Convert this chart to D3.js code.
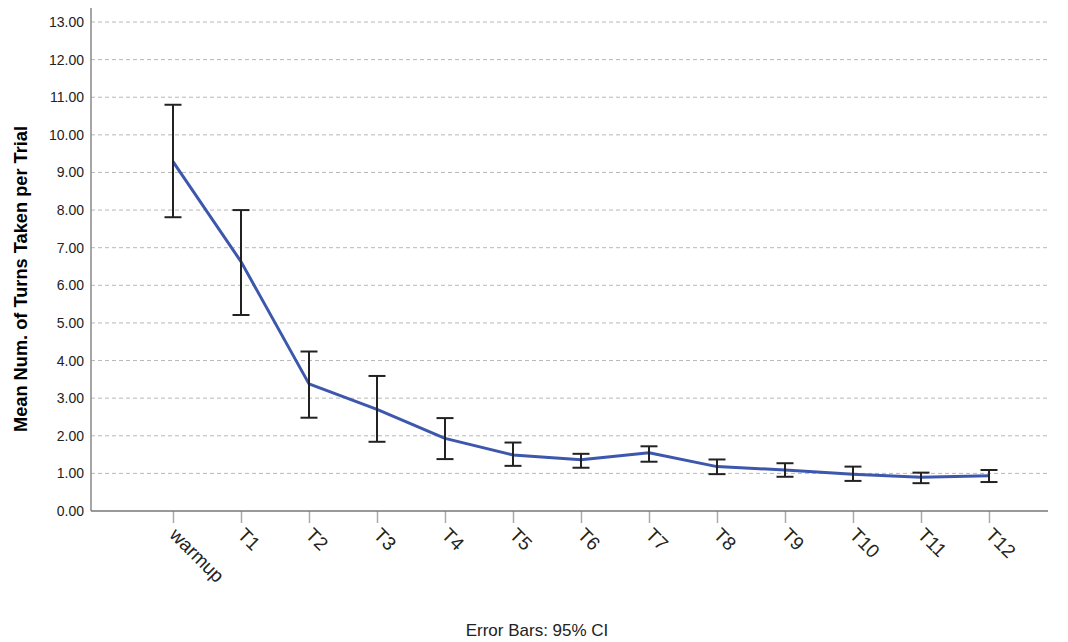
<!DOCTYPE html>
<html>
<head>
<meta charset="utf-8">
<script src="https://cdn.jsdelivr.net/npm/d3@7"></script>
<style>
  body { margin: 0; background: #fff; }
  svg { font-family: "Liberation Sans", Arial, sans-serif; }
</style>
</head>
<body>
<div id="chart"></div>
<script>
// data
var categories = ["warmup", "T1", "T2", "T3", "T4", "T5", "T6", "T7", "T8", "T9", "T10", "T11", "T12"];
var means = [9.29, 6.63, 3.38, 2.70, 1.93, 1.49, 1.36, 1.55, 1.18, 1.09, 0.98, 0.90, 0.94];
var upper = [10.80, 8.00, 4.24, 3.59, 2.47, 1.82, 1.52, 1.72, 1.37, 1.27, 1.18, 1.02, 1.09];
var lower = [7.81, 5.21, 2.48, 1.84, 1.38, 1.20, 1.15, 1.31, 0.98, 0.91, 0.80, 0.74, 0.77];
var yTicks = [0, 1, 2, 3, 4, 5, 6, 7, 8, 9, 10, 11, 12, 13];

var width = 1068, height = 642;
var plot = { left: 91, right: 1048, top: 8, bottom: 511 };

var data = categories.map(function (c, i) {
    return { cat: c, mean: means[i], hi: upper[i], lo: lower[i] };
});

var svg = d3.select("#chart").append("svg")
    .attr("width", width)
    .attr("height", height);

var x = d3.scalePoint()
    .domain(categories)
    .range([173, 989]);

var y = d3.scaleLinear()
    .domain([0, 13])
    .range([plot.bottom, 22]);

// gridlines
svg.append("g").selectAll("line")
    .data(yTicks.filter(function (d) { return d > 0; }))
    .enter().append("line")
    .attr("x1", plot.left).attr("x2", plot.right)
    .attr("y1", function (d) { return y(d); })
    .attr("y2", function (d) { return y(d); })
    .attr("stroke", "#b8b8b8")
    .attr("stroke-dasharray", "4,3")
    .attr("stroke-width", 1);

// y axis
var yAxis = svg.append("g")
    .attr("transform", "translate(" + plot.left + ",0)")
    .call(d3.axisLeft(y).tickValues(yTicks).tickSize(0).tickPadding(7)
        .tickFormat(d3.format(".2f")));
yAxis.select(".domain").remove();
yAxis.selectAll("text").attr("font-size", 14).attr("fill", "#222");
svg.append("line")
    .attr("x1", plot.left).attr("x2", plot.left)
    .attr("y1", plot.top).attr("y2", plot.bottom)
    .attr("stroke", "#888").attr("stroke-width", 1.5);

// x axis
var xAxis = svg.append("g")
    .attr("transform", "translate(0," + plot.bottom + ")")
    .call(d3.axisBottom(x).tickSize(12));
xAxis.select(".domain").remove();
xAxis.selectAll(".tick line").attr("stroke", "#aaa").attr("stroke-width", 1.5);
xAxis.selectAll("text")
    .attr("font-size", 19)
    .attr("fill", "#222")
    .attr("text-anchor", "start")
    .attr("y", 0)
    .attr("dy", 0)
    .attr("transform", "translate(-5,25) rotate(45)");
svg.append("line")
    .attr("x1", plot.left).attr("x2", plot.right)
    .attr("y1", plot.bottom).attr("y2", plot.bottom)
    .attr("stroke", "#777").attr("stroke-width", 1.5);

// mean line
var line = d3.line()
    .x(function (d) { return x(d.cat); })
    .y(function (d) { return y(d.mean); });

svg.append("path")
    .datum(data)
    .attr("d", line)
    .attr("fill", "none")
    .attr("stroke", "#3d57ad")
    .attr("stroke-width", 3)
    .attr("stroke-linejoin", "round");

// error bars
var err = svg.append("g").selectAll("g")
    .data(data)
    .enter().append("g")
    .attr("stroke", "#222")
    .attr("stroke-width", 2);
err.append("line")
    .attr("x1", function (d) { return x(d.cat); })
    .attr("x2", function (d) { return x(d.cat); })
    .attr("y1", function (d) { return y(d.hi); })
    .attr("y2", function (d) { return y(d.lo); });
err.append("line")
    .attr("x1", function (d) { return x(d.cat) - 8.5; })
    .attr("x2", function (d) { return x(d.cat) + 8.5; })
    .attr("y1", function (d) { return y(d.hi); })
    .attr("y2", function (d) { return y(d.hi); });
err.append("line")
    .attr("x1", function (d) { return x(d.cat) - 8.5; })
    .attr("x2", function (d) { return x(d.cat) + 8.5; })
    .attr("y1", function (d) { return y(d.lo); })
    .attr("y2", function (d) { return y(d.lo); });

// axis title
svg.append("text")
    .attr("transform", "translate(27,279) rotate(-90)")
    .attr("text-anchor", "middle")
    .attr("font-size", 18)
    .attr("font-weight", "bold")
    .attr("textLength", 306)
    .attr("lengthAdjust", "spacingAndGlyphs")
    .attr("fill", "#000")
    .text("Mean Num. of Turns Taken per Trial");

svg.append("text")
    .attr("x", 537)
    .attr("y", 636)
    .attr("text-anchor", "middle")
    .attr("font-size", 17)
    .attr("fill", "#222")
    .text("Error Bars: 95% CI");
</script>
</body>
</html>
